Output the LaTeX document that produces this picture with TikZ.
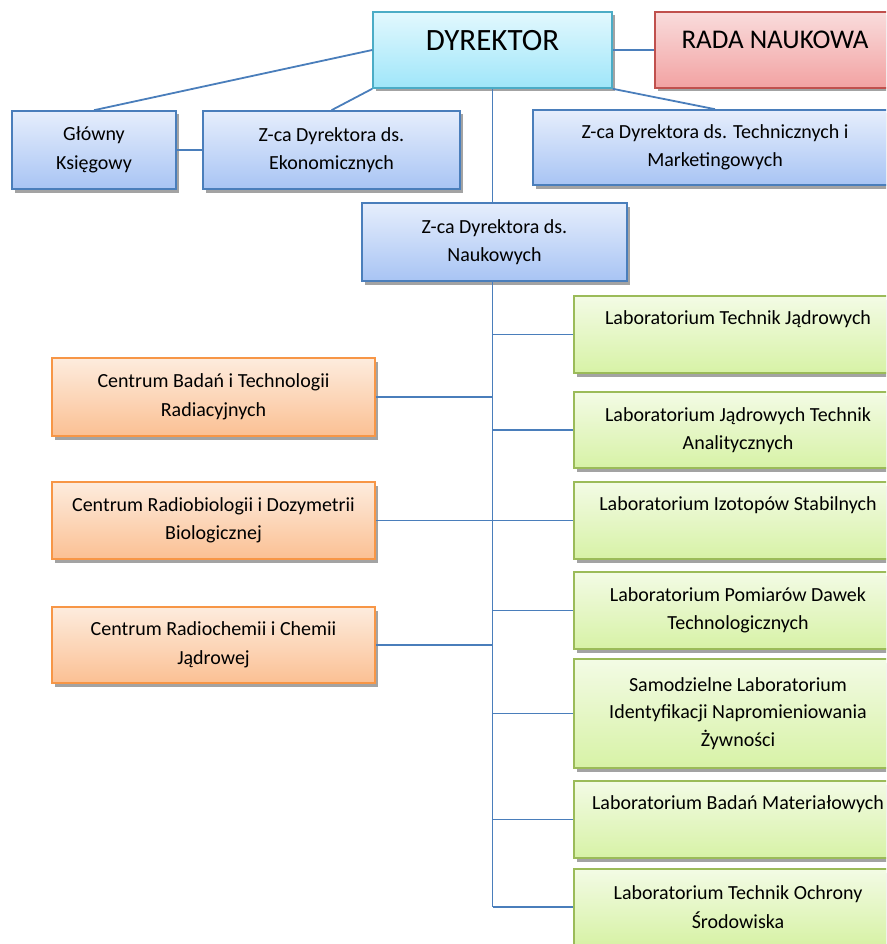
\documentclass[tikz,border=0pt]{standalone}
\usepackage{fontspec}
\setmainfont{Carlito}
\usepackage{tikz}
\usetikzlibrary{positioning,shadows}
\definecolor{lnblue}{HTML}{4A7EBB}
\definecolor{bluetop}{HTML}{E6EEFC}
\definecolor{bluebot}{HTML}{A8C4F4}
\definecolor{cyanln}{HTML}{4BACC6}
\definecolor{cyantop}{HTML}{E2F8FE}
\definecolor{cyanbot}{HTML}{9FE6F9}
\definecolor{redln}{HTML}{C0504D}
\definecolor{redtop}{HTML}{F9DCDC}
\definecolor{redbot}{HTML}{F2A2A2}
\definecolor{orln}{HTML}{F79646}
\definecolor{ortop}{HTML}{FDECDE}
\definecolor{orbot}{HTML}{FBC093}
\definecolor{grln}{HTML}{9BBB59}
\definecolor{grtop}{HTML}{F3FBE5}
\definecolor{grbot}{HTML}{D7F2A6}
\definecolor{shd}{HTML}{A3A3A3}

\begin{document}
\begin{tikzpicture}[x=1pt,y=-1pt,
  bx/.style={line width=1.6pt,minimum height=77pt,align=center,inner sep=0pt,
             font=\fontsize{20}{28.5}\selectfont,
             drop shadow={shadow xshift=3pt,shadow yshift=-3.5pt,fill=shd,opacity=1}},
  bl/.style={bx,draw=lnblue,top color=bluetop,bottom color=bluebot},
  cy/.style={bx,draw=cyanln,top color=cyantop,bottom color=cyanbot},
  rd/.style={bx,draw=redln,top color=redtop,bottom color=redbot},
  og/.style={bx,draw=orln,top color=ortop,bottom color=orbot,minimum width=323pt},
  gr/.style={bx,draw=grln,top color=grtop,bottom color=grbot,minimum width=328pt},
  a/.style={lnblue,line width=1.8pt}]
  \useasboundingbox (0,0) rectangle (886,944);
  \clip (0,0) rectangle (886,944);
  % top level
  \node[cy,font=\fontsize{31}{36}\selectfont,minimum width=239pt,minimum height=76pt] (dyr) at (492.5,50) {DYREKTOR\\[-16pt]~};
  \node[rd,font=\fontsize{27}{32}\selectfont,minimum width=240pt,minimum height=76pt] (rada) at (775,50) {RADA NAUKOWA\\[-12pt]~};
  % deputies
  \node[bl,minimum width=164pt,minimum height=78pt] (gk) at (94,150) {Główny\\Księgowy};
  \node[bl,minimum width=257pt,minimum height=78pt] (ekon) at (331.5,150) {Z-ca Dyrektora ds.\\Ekonomicznych};
  \node[bl,minimum width=364pt,minimum height=75pt] (techn) at (715,147.5) {Z-ca Dyrektora ds. Technicznych i\\Marketingowych};
  \node[bl,minimum width=265pt,minimum height=78pt] (nauk) at (494.5,242) {Z-ca Dyrektora ds.\\Naukowych};
  % centres
  \node[og,minimum height=78pt] (c1) at (213.5,397) {Centrum Badań i Technologii\\Radiacyjnych};
  \node[og] (c2) at (213.5,520.5) {Centrum Radiobiologii i Dozymetrii\\Biologicznej};
  \node[og,minimum height=76pt] (c3) at (213.5,645) {Centrum Radiochemii i Chemii\\Jądrowej};
  % laboratories
  \node[gr] (l1) at (738,334.5) {Laboratorium Technik Jądrowych\\[5pt]~};
  \node[gr,minimum height=76pt] (l2) at (738,430) {Laboratorium Jądrowych Technik\\Analitycznych};
  \node[gr] (l3) at (738,520.5) {Laboratorium Izotopów Stabilnych\\[5pt]~};
  \node[gr] (l4) at (738,610.5) {Laboratorium Pomiarów Dawek\\Technologicznych};
  \node[gr,minimum height=109pt,font=\fontsize{20}{27.5}\selectfont] (l5) at (738,713.5) {Samodzielne Laboratorium\\Identyfikacji Napromieniowania\\Żywności};
  \node[gr] (l6) at (738,819.5) {Laboratorium Badań Materiałowych\\[5pt]~};
  \node[gr,minimum height=76pt] (l7) at (738,907) {Laboratorium Technik Ochrony\\Środowiska};
  % connectors
  \draw[a] (dyr.west)--(gk.north); \draw[a] (dyr.south west)--(ekon.north);
  \draw[a] (dyr.south east)--(techn.north); \draw[a] (dyr.east)--(rada.west);
  \draw[a] (gk.east)--(ekon.west);
  \draw[a] (dyr.south)--(dyr.south |- nauk.north);
  \draw[a] (dyr.south |- nauk.south)--(dyr.south |- l7.west);
  \draw[a] (c1.east)--(dyr.south |- c1.east); \draw[a] (c2.east)--(dyr.south |- c2.east);
  \draw[a] (c3.east)--(dyr.south |- c3.east);
  \draw[a] (dyr.south |- l1.west)--(l1.west); \draw[a] (dyr.south |- l2.west)--(l2.west);
  \draw[a] (dyr.south |- l3.west)--(l3.west); \draw[a] (dyr.south |- l4.west)--(l4.west);
  \draw[a] (dyr.south |- l5.west)--(l5.west); \draw[a] (dyr.south |- l6.west)--(l6.west);
  \draw[a] (dyr.south |- l7.west)--(l7.west);
\end{tikzpicture}
\end{document}
